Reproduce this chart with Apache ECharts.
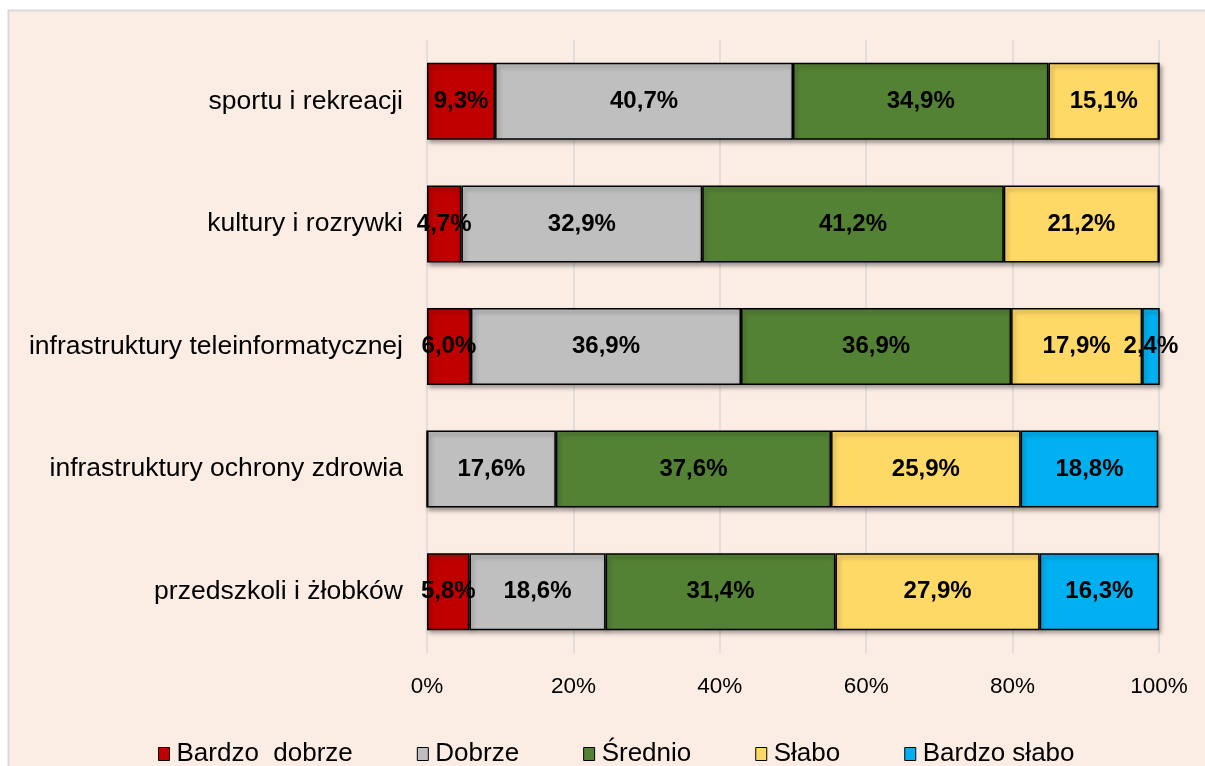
<!DOCTYPE html>
<html>
<head>
<meta charset="utf-8">
<script src="https://cdn.jsdelivr.net/npm/echarts@6/dist/echarts.min.js"></script>
<style>
    html, body {margin: 0; padding: 0; background: #fff;}
    #chart {width: 1205px; height: 766px;}
</style>
</head>
<body>
<div id="chart"></div>
<script>
var categories = ['sportu i rekreacji', 'kultury i rozrywki', 'infrastruktury teleinformatycznej', 'infrastruktury ochrony zdrowia', 'przedszkoli i żłobków'];
var seriesNames = ['Bardzo  dobrze', 'Dobrze', 'Średnio', 'Słabo', 'Bardzo słabo'];
var seriesColors = ['#C00000', '#BFBFBF', '#548235', '#FFD966', '#00B0F0'];

var bardzoDobrze = [9.3, 4.7, 6.0, 0, 5.8];
var dobrze = [40.7, 32.9, 36.9, 17.6, 18.6];
var srednio = [34.9, 41.2, 36.9, 37.6, 31.4];
var slabo = [15.1, 21.2, 17.9, 25.9, 27.9];
var bardzoSlabo = [0, 0, 2.4, 18.8, 16.3];

var allData = [bardzoDobrze, dobrze, srednio, slabo, bardzoSlabo];

var chart = echarts.init(document.getElementById('chart'));

var seriesArr = [];
for (var i = 0; i < seriesNames.length; i++) {
    seriesArr.push({
        name: seriesNames[i],
        type: 'bar',
        stack: 'all',
        barWidth: 77,
        data: allData[i],
        itemStyle: {
            color: seriesColors[i],
            borderColor: '#000',
            borderWidth: 1.5,
            shadowColor: 'rgba(0,0,0,0.35)',
            shadowBlur: 4,
            shadowOffsetX: 2,
            shadowOffsetY: 3
        },
        label: {
            show: true,
            position: 'inside',
            color: '#000',
            fontFamily: 'Liberation Sans',
            fontWeight: 'bold',
            fontSize: 24,
            formatter: function (p) {
                if (!p.value) return '';
                return p.value.toFixed(1).replace('.', ',') + '%';
            }
        }
    });
}

var option = {
    backgroundColor: '#fff',
    animation: false,
    graphic: [{
        type: 'rect',
        z: -10,
        shape: {x: 8.5, y: 10.5, width: 1220, height: 800},
        style: {fill: '#FBEDE4', stroke: '#D9D9D9', lineWidth: 2}
    }],
    grid: {left: 427, right: 46, top: 40, height: 613},
    legend: {
        data: seriesNames,
        left: 153,
        top: 736,
        icon: 'rect',
        itemWidth: 11,
        itemHeight: 13,
        itemGap: 64,
        itemStyle: {borderColor: '#000', borderWidth: 1},
        textStyle: {fontFamily: 'Liberation Sans', fontSize: 26, color: '#000', padding: [0, 0, 0, 2]}
    },
    xAxis: {
        type: 'value',
        min: 0,
        max: 100,
        interval: 20,
        axisLine: {show: false},
        axisTick: {show: false},
        splitLine: {lineStyle: {color: '#D9D9D9', width: 1.5}},
        axisLabel: {
            formatter: '{value}%',
            fontFamily: 'Liberation Sans',
            fontSize: 22.5,
            color: '#000',
            margin: 22
        }
    },
    yAxis: {
        type: 'category',
        inverse: true,
        data: categories,
        axisLine: {show: false},
        axisTick: {show: false},
        axisLabel: {
            fontFamily: 'Liberation Sans',
            fontSize: 26.5,
            color: '#000',
            margin: 24
        }
    },
    series: seriesArr
};

chart.setOption(option);
</script>
</body>
</html>
